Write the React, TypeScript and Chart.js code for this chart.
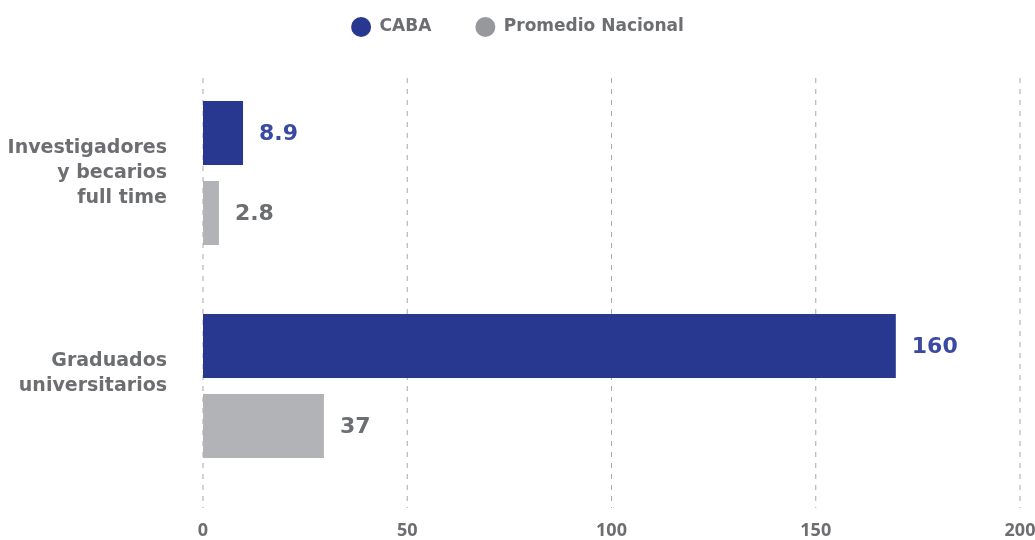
import React, { useEffect, useRef } from "react";
import { Chart, registerables } from "chart.js";

Chart.register(...registerables);

// ---- Data ----
const categories: string[][] = [
  ["Investigadores", "y becarios", "full time"],
  ["Graduados", "universitarios", ""],
];
const seriesNames: string[] = ["CABA", "Promedio Nacional"];
// bar lengths as drawn in the reference
const cabaValues: number[] = [9.8, 169.6];
const nacionalValues: number[] = [3.9, 29.6];
// value labels printed next to the bars
const cabaLabels: string[] = ["8.9", "160"];
const nacionalLabels: string[] = ["2.8", "37"];
const xTicks: number[] = [0, 50, 100, 150, 200];

// ---- Styles ----
const FONT = "'DejaVu Sans', 'Open Sans', sans-serif";
const TICK_FONT = "'Open Sans', 'DejaVu Sans', sans-serif";
const GRAY_TEXT = "#6d6e71";
const BAR_COLORS = ["#283891", "#b1b3b6"];
const LEGEND_COLORS = ["#283891", "#97989b"];
const LABEL_COLORS = ["#3a49a2", "#6d6e71"];

const gridPlugin = {
  id: "dashedGrid",
  beforeDatasetsDraw(chart: any) {
    const { ctx, chartArea, scales } = chart;
    const xs = scales.x;
    ctx.save();
    ctx.strokeStyle = "#a7a9ac";
    ctx.lineWidth = 1;
    ctx.setLineDash([5, 6]);
    xTicks.forEach((v) => {
      const px = xs.getPixelForValue(v);
      ctx.beginPath();
      ctx.moveTo(px, chartArea.top + 11.5);
      ctx.lineTo(px, chartArea.bottom + 15.5);
      ctx.stroke();
    });
    ctx.restore();
  },
};

const valueLabelPlugin = {
  id: "valueLabels",
  afterDatasetsDraw(chart: any) {
    const { ctx } = chart;
    const allLabels = [cabaLabels, nacionalLabels];
    ctx.save();
    ctx.font = `bold 22px ${FONT}`;
    ctx.textBaseline = "middle";
    ctx.textAlign = "left";
    chart.data.datasets.forEach((_d: any, i: number) => {
      const meta = chart.getDatasetMeta(i);
      ctx.fillStyle = LABEL_COLORS[i];
      meta.data.forEach((bar: any, j: number) => {
        ctx.fillText(allLabels[i][j], bar.x + 16, bar.y + 1);
      });
    });
    ctx.restore();
  },
};

const legendSizePlugin = {
  id: "legendSize",
  beforeLayout(chart: any) {
    const lg = chart.legend;
    if (lg && !lg._patchedFit) {
      const orig = lg.fit;
      lg.fit = function () {
        orig.call(this);
        this.height = 92;
      };
      lg._patchedFit = true;
    }
  },
};

export default function App() {
  const canvasRef = useRef<HTMLCanvasElement | null>(null);

  useEffect(() => {
    document.body.style.margin = "0";
    const canvas = canvasRef.current;
    if (!canvas) return;
    const chart = new Chart(canvas, {
      type: "bar",
      data: {
        labels: categories,
        datasets: [
          {
            label: seriesNames[0],
            data: cabaValues,
            backgroundColor: BAR_COLORS[0],
            borderWidth: 0,
            barPercentage: 0.8,
            categoryPercentage: 0.751,
          },
          {
            label: seriesNames[1],
            data: nacionalValues,
            backgroundColor: BAR_COLORS[1],
            borderWidth: 0,
            barPercentage: 0.8,
            categoryPercentage: 0.751,
          },
        ],
      },
      options: {
        indexAxis: "y",
        responsive: true,
        maintainAspectRatio: false,
        animation: false,
        layout: { padding: { top: -25.5, left: 0, right: 0, bottom: 0 } },
        plugins: {
          tooltip: { enabled: false },
          legend: {
            position: "top",
            labels: {
              usePointStyle: true,
              pointStyle: "circle",
              boxHeight: 14,
              pointStyleWidth: 20,
              padding: 44,
              color: GRAY_TEXT,
              font: { family: FONT, size: 17, weight: "bold" },
              generateLabels: (c: any) => {
                const items = Chart.defaults.plugins.legend.labels.generateLabels(c);
                items.forEach((it: any, i: number) => {
                  it.fillStyle = LEGEND_COLORS[i];
                  it.strokeStyle = LEGEND_COLORS[i];
                  it.lineWidth = 0;
                  it.pointStyle = "circle";
                });
                return items;
              },
            },
          },
        },
        scales: {
          x: {
            min: 0,
            max: 200,
            afterBuildTicks: (s: any) => {
              s.ticks = xTicks.map((v) => ({ value: v }));
            },
            ticks: {
              padding: 28,
              color: GRAY_TEXT,
              font: { family: TICK_FONT, size: 18, weight: "bold" },
              maxRotation: 0,
            },
            grid: { display: false, drawTicks: false },
            border: { display: false },
            afterFit: (s: any) => {
              s.height = 47.5;
              s.paddingRight = 15;
              s.paddingLeft = 0;
            },
          },
          y: {
            ticks: {
              padding: 36,
              color: GRAY_TEXT,
              font: { family: FONT, size: 19, weight: "bold", lineHeight: 1.32 },
            },
            grid: { display: false, drawTicks: false },
            border: { display: false },
            afterFit: (s: any) => {
              s.width = 203;
              s.paddingTop = 0;
              s.paddingBottom = 0;
            },
          },
        },
      },
      plugins: [gridPlugin, valueLabelPlugin, legendSizePlugin],
    });
    return () => chart.destroy();
  }, []);

  return (
    <div style={{ width: 1035, height: 540, position: "relative" }}>
      <canvas ref={canvasRef} />
    </div>
  );
}
